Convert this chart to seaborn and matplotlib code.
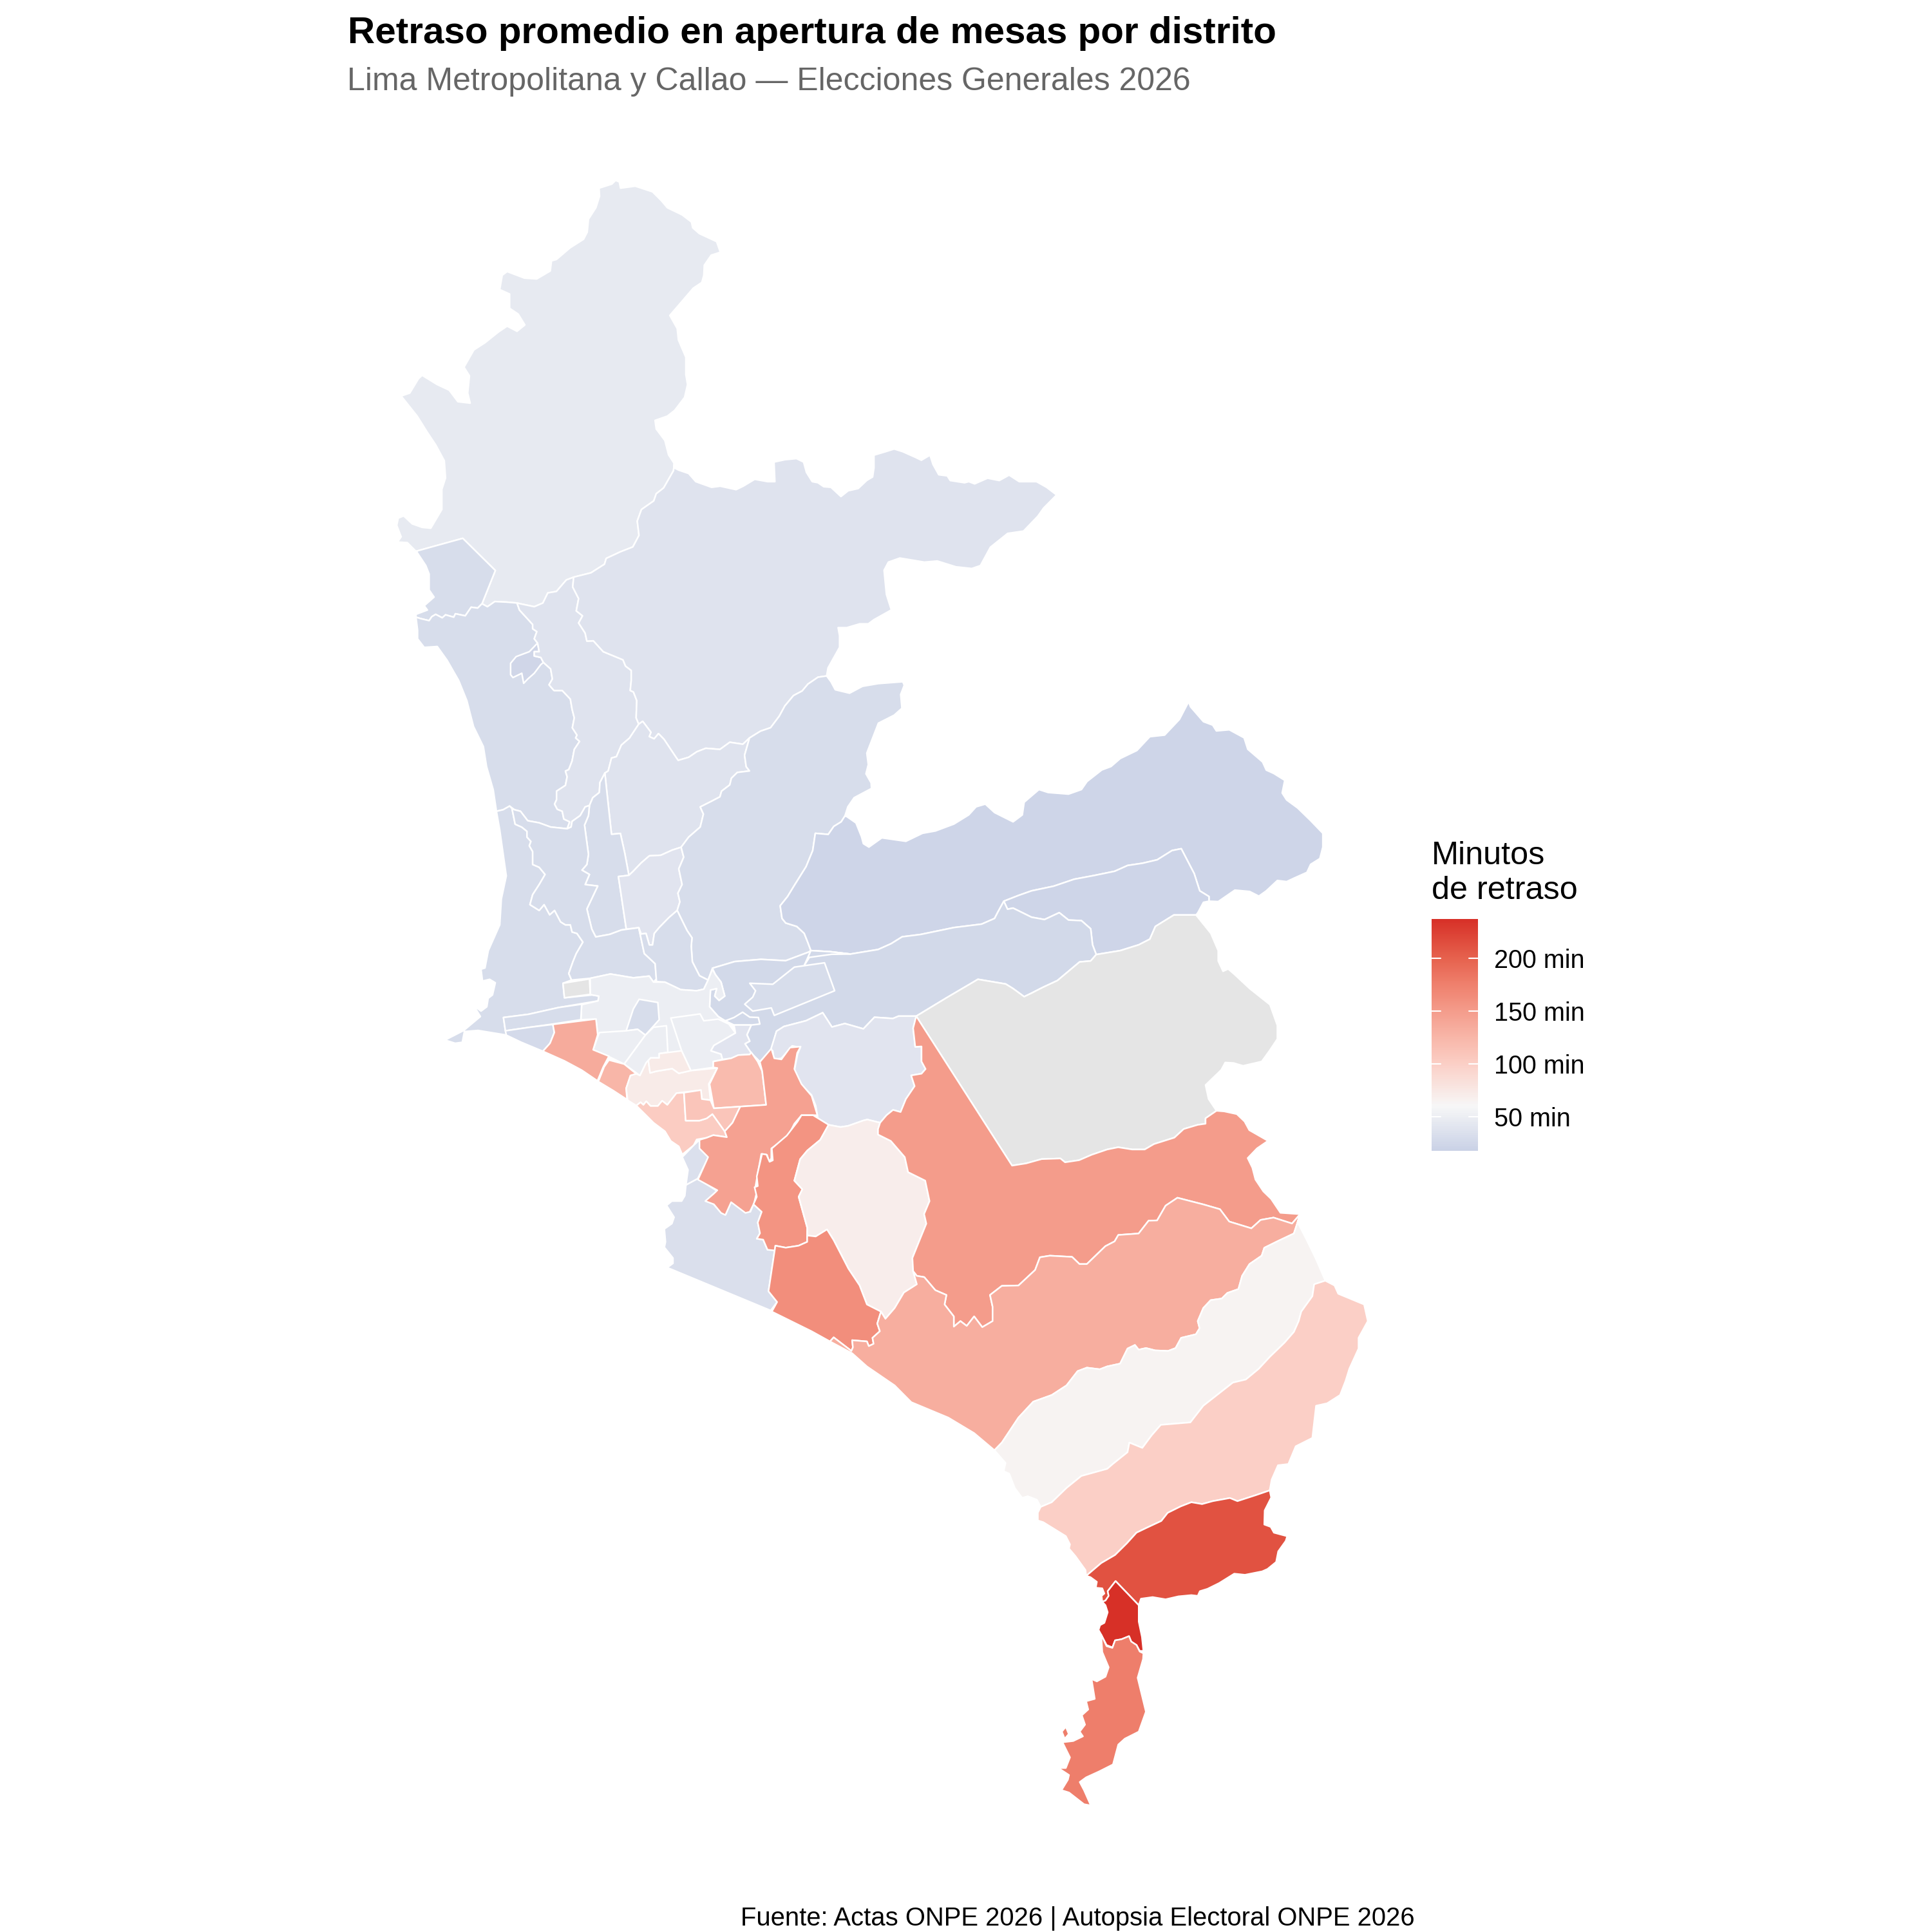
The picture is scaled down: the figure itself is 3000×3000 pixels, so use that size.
import numpy as np
import matplotlib
matplotlib.use("Agg")
import matplotlib.pyplot as plt
import seaborn as sns
from matplotlib.colors import LinearSegmentedColormap, Normalize
from matplotlib.cm import ScalarMappable

sns.set_theme(style="white")
plt.rcParams['font.family'] = ['Liberation Sans', 'DejaVu Sans']

# ---------- shared borders (map units) ----------
anc_coast = [(337.6,447.4),(330.6,440.4),(322.6,439.9),(325.6,435.7),(322,426.4),(323.2,420.5),(327.6,418.7),(334.6,425.2),(342.6,428),(349.6,428.7),(358.6,413.5),(358.6,397.2),(361.6,387.9),(360.6,373.9),(353.6,361),(346.6,350.5),(338.6,337.7),(325.6,321.4),(332.6,319),(339.6,307.4),(342.6,304.6),(354.6,312),(364.6,316.7),(371.6,326),(381.6,327.2),(379.6,319),(381,305),(376.6,298),(384.6,284),(393.6,278.2),(404.6,269.4),(411.6,264.7),(419.6,268.9),(426,263.7),(420.6,254.9),(413.6,250.2),(413.6,238.6),(405.6,235),(407.6,223.4),(411.6,220.4),(425.6,225.7),(435.6,226.4),(446.6,219.9),(447.6,211.7),(451.6,210.6),(462.6,201.2),(473.6,194.2),(476.6,188.4),(477.6,177.9),(483.6,168.6),(486.6,159.2),(486.2,152.7),(496.6,149.4),(499.6,146.4),(502.6,147.6),(503.6,152.7),(515.6,151.1),(522.6,153.4),(529.6,155.7),(536.6,162.7),(541.6,168.6),(553.6,174.4),(561.2,180.2),(562.2,184.9),(567.6,189.6),(581.6,196.1),(584.6,204.7),(577.2,207.1),(571.6,215.2),(571.2,223.4),(569.6,229.2),(562.6,233.9),(556.6,240.9),(550.6,247.9),(543.6,256),(549.6,266.6),(550.6,275.9),(556.6,289.9),(556.6,303.9),(558,312.1),(555.6,322.5),(547.6,333),(541.6,337.7),(531.6,341.2),(532.6,348.2),(539.6,357.5),(542.6,369.2),(547.2,376.2)]
b_anc_car = [(547.2,376.2),(546.6,382),(538.6,396),(532.6,400.7),(530.6,406.5),(520.6,413.5),(517.2,422.9),(518.6,434.5),(513.6,443.9),(503.6,447.8),(492,453.2),(490.6,457.9),(479.6,464.9),(465.6,468.4)]
b_anc_pp = [(465.6,468.4),(459.6,470.7),(451.6,480),(444.6,481.2),(440.6,489.4),(433.6,492.4),(424.6,490.5),(419.6,489.4)]
b_anc_ven = [(419.6,489.4),(411.6,488.7),(401.6,488.2),(395.6,492.4),(391.2,490)]
b_sr_anc = [(391.2,490),(402,463),(375.6,436.9),(337.6,447.4)]
sr_coast = [(338.1,447.7),(345.6,459),(348.3,465.9),(348.3,478.8),(352.3,484.6),(344.3,491.6),(346.9,495.1),(337.6,498.6),(337.6,500.9)]
b_ven_sr = [(391.2,490),(387.7,493.5),(382.4,492.8),(377.6,499.8),(369.6,498.1),(368.3,500.9),(361.6,499),(358.9,501.4),(353.6,498.6),(350.4,500.5),(348.3,503.7),(341.6,502.1),(337.6,500.9)]
ven_coast = [(337.6,500.9),(338.9,511.4),(338.9,518.4),(344.3,525.4),(354.9,524.7),(362.9,535.9),(372.3,552.3),(378.9,568.6),(384.3,589.6),(392.3,605.9),(394.9,622.2),(400.3,640.9),(402.9,658.4)]
b_ven_south = [(402.9,658.4),(408.3,657.2),(413.6,654.2),(417.6,657.2),(422.4,658.4),(428.3,666.1),(437.6,667.8),(446.9,671.2),(460.3,672.6)]
b_ven_pp = [(419.6,489.4),(421.6,495.1),(432.3,506.8),(432.3,510.3),(435.7,512.6),(433.6,518.4),(436.3,521.9),(437.6,528.9),(433.6,528.9),(433.6,532.4),(438.9,533.6),(441,537.6),(446.9,542.9),(448.3,551.1),(445.6,555.8),(449.6,560.4),(456.3,560.4),(462.9,567.4),(464.3,575.6),(466.1,582.6),(464.5,590.7),(468.3,596.6),(467.2,598.9),(470.4,601.7),(466.1,608.2),(464.3,617.6),(461.6,624.6),(458.9,625.8),(460.3,630.4),(458.9,637.4),(451.7,642.1),(451.7,649.1),(450.1,652.6),(452.3,656.8),(456.3,658.4),(457.6,664.7),(462.4,667),(460.3,672.6)]
mi_peru_west = [(436.3,521.9),(429.6,528.9),(418.9,532.9),(414.4,538.3),(414.4,547.6),(416.3,549.9),(423.5,546.4),(425,554.6),(428.3,551.1),(433.6,546.4),(438.9,539.4),(441,537.6)]
b_pp_car = [(465.6,468.4),(464.8,476.4),(469.6,485.8),(467.7,495.8),(472.8,499.8),(469.6,505.6),(474.9,513.8),(476.3,520.3),(481.6,520.1),(489.6,528.9),(505.6,535.5),(507.7,540.6),(512.3,544.1),(512.3,552.3),(511.5,560.4),(514.1,561.6),(516.8,568.6),(516.3,582.6),(518.4,587.7)]
b_j4_j5 = [(518.4,587.7),(510.9,599),(504.3,604.7),(500.3,614.1),(496.3,615.2),(493.6,625.7),(490.9,627.4)]
b_j5_pp = [(490.9,627.4),(486.9,635.1),(486.4,643.2),(481.1,647.4),(478.4,653.7),(474.9,654.9),(470.9,661.9),(464.3,666.6),(463.5,671.2),(460.3,672.6)]
b_car_comas = [(518.4,587.7),(521.6,585.4),(528.3,594.3),(526.9,597.8),(530.9,599.6),(534.4,595.4),(538.9,600),(548.3,614.1),(550.4,617.1),(558.9,614.6),(565.6,610.1),(572.8,607.3),(584.3,608.2),(592.3,602.4),(602.9,604),(608.3,598.9)]
b_car_sjl = [(608.3,598.9),(617.2,593.4),(625.4,590.6),(632.4,581.3),(637,572.9),(644,564.5),(651,560.8),(655.7,555.2),(663.9,549.6),(670.9,548.6)]
car_north = [(547.2,379.7),(550.7,381.5),(558.9,384.3),(564.7,390.9),(577.5,395.5),(584.5,394.6),(597.4,397.4),(603.2,394.6),(612.5,389),(623,390.9),(628.9,390.9),(628.2,375),(637,373.1),(646.4,372.2),(652.2,375),(654.5,383.4),(659.2,390.9),(663.9,391.8),(668.5,395),(674.4,395.5),(682.5,403),(688.4,398.3),(696.5,396.5),(703.5,389.9),(708.2,387.1),(709.3,379.7),(709.3,369.4),(718.7,366.6),(725.7,364.4),(732.7,366.6),(743.2,371.3),(747.8,373.5),(754.8,369.4),(757.2,376.9),(761.9,385.3),(768.8,386.2),(771.2,390),(782.8,391.8),(786.3,390.9),(791,392.7),(801.5,388.1),(811,390),(819,385.6),(827.2,390.9),(841.2,390.9),(849.4,395.5),(857.5,401.7),(847,412.3),(842.3,418.9),(830.7,431),(817.8,432.9),(803.8,444.1),(795.7,459),(788.7,461.4),(775.8,460),(760.7,455.3),(750.2,456.2),(730.3,452.9),(721,456.2),(717.5,462.8),(719.4,482.4),(723.4,495),(709.3,502.9),(704.7,506.3),(697.7,506.3),(687.2,509.4),(680.2,509.4),(681.4,516),(681.4,525.3),(672,542.1),(670.9,548.6)]
b_comas_sjl = [(608.3,598.9),(604.3,612.9),(605.6,622.2),(608.3,625.7),(598.4,626.9),(593.6,631.6),(592.3,637),(585.6,642.1),(584.3,646.7),(577.6,650.2),(568.3,654.9),(570.9,660.7),(568.3,671.2),(558.9,679.4),(552.8,687.6)]
b_comas_low = [(552.8,687.6),(545.6,689.9),(536.3,694.1),(527,694.6),(520.3,700.4),(513.6,707.4),(510.4,710.4)]
b_strip_e = [(510.4,710.4),(507,692.2),(503.5,676.4),(496.3,677.1),(493.6,652.6),(490.9,627.4)]
b_smp_w = [(478.4,653.7),(477.6,661.9),(474.4,669.6),(477.6,693.4),(476.3,701.6),(472.3,706.2),(478.4,709.7),(474.9,717.9),(485.1,719.1),(476.3,737.7),(480.3,754.1),(483.5,760.4),(494.9,758.3),(504.3,754.8)]
b_low_sjl = [(552.8,687.6),(554.9,695.7),(550.9,705.1),(553.6,717.9),(550.2,724.9),(551.8,731.9),(549.6,738.9)]
b_rim_top = [(549.6,738.9),(542.9,744.7),(534.9,752.9),(531,757.6),(529.6,766.9),(527,766.9),(524.3,757.6),(520.3,758),(518.4,752.9)]
b_sjl_rim = [(549.6,738.9),(553.6,747.1),(557.6,755.2),(561.6,761.1),(561,768),(561.9,780.5),(567.7,791.9),(574.7,795.4),(578.2,785.8)]
sjl_outer = [(670.9,548.6),(674.4,553.3),(677.9,559.8),(689.5,562.6),(700,557),(712.9,554.8),(732.7,553.3),(733.9,556.1),(731,563.6),(732,574.8),(725.7,580.4),(712.9,586.9),(709.3,596.2),(703.5,611.2),(704.7,620.5),(702.8,628),(707,635.4),(707.3,639.9),(693.2,647.4),(688.1,654.8),(685.7,662.3)]
b_sjl_lur = [(685.7,662.3),(682.7,667),(676.7,670.7),(672.2,677.2),(661.7,676.3),(659.6,690.3),(654.2,703.4),(643.7,720.2),(639.2,727.6),(633.2,735.1),(634.7,745.4),(637.7,749.1),(646.7,751.9),(652.7,757.5),(655.7,765),(658.1,771.5)]
b_sjl_south = [(578.2,785.8),(596.3,780.4),(617.6,778.6),(637.6,779.7),(656.3,772.7),(658.1,771.5)]
lur_outer = [(685.7,662.3),(687.2,662.7),(694.7,667.9),(699.2,679.1),(700.7,684.7),(705.2,687.5),(715.7,680),(735.2,682.8),(748.7,676.3),(759.2,674.4),(774.2,668.8),(786.2,661.4),(792.2,654.8),(799.7,652.6),(807.2,659.5),(822.2,667),(829.7,661.4),(831.2,651.1),(843.2,640.8),(850.7,643.2),(867.2,644.5),(877.7,640.8),(882.2,634.3),(894.2,624.9),(901.7,622.1),(909.2,615.6),(922.7,609.1),(933.2,597.9),(945.2,596.6),(957.2,583.9),(964.7,569.5),(966.2,573.6),(976.7,585.7),(984.2,588.5),(987.2,593.2),(997.7,592.3),(1009.7,598.8),(1012.7,608.1),(1024.7,618.4),(1027.7,625),(1033.7,627.7),(1042.7,633.3),(1040.6,643.6),(1044.2,649.2),(1053.2,655.8),(1063.7,666),(1073.6,676.3),(1073.6,687.5),(1071.2,696.8),(1063.7,701.5),(1060.7,708),(1050.2,712.7),(1044.2,715.5),(1036.7,714.6),(1027.7,723),(1021.7,727.3),(1014.2,723.5),(1002.2,722.4),(988.7,731.7),(981.2,731.4)]
b_lur_cha = [(981.2,731.4),(981.2,727.6),(973.7,723),(969.2,709),(958.7,688.8),(951.2,690.3),(939.2,697.8),(927.2,700.6),(915.2,702.4),(904.7,707.1),(888.2,710.5),(871.7,713.6),(855.2,719.2),(837.2,723),(826.7,726.7),(814.7,731.4)]
b_lur_ate = [(814.7,731.4),(809.6,740.7),(807.2,745.4),(796.7,750),(774.2,752.8),(747.2,758.4),(732.2,760.3),(723.2,765.9),(712.7,770.6),(690.2,774.3),(673.7,772.4),(658.1,771.5)]
b_cha_gray = [(981.2,731.4),(976.7,732.3),(972.2,740.7),(970.7,742.6),(952.7,742.6),(937.7,751.9),(933.2,762.2),(924.2,766.8),(909.2,771.5),(889.7,774.7)]
b_cha_ate = [(889.7,774.7),(886.7,766.8),(885.2,753.8),(877.7,747.2),(867.2,746.7),(859.7,740.7),(847.7,746.3),(837.2,744.4),(822.2,737),(817.7,737.9),(814.7,731.4)]
b_ate_gray = [(889.7,774.7),(885.2,779.9),(876.2,780.7),(858.2,795.8),(846.2,801.4),(837.2,806),(831.2,808.9),(822.2,802.3),(816.2,798.6),(793.7,794.8),(768.2,809.8),(743.6,824.7)]
b_ate_mol = [(743.6,824.7),(729.2,824.7),(724.7,826.6),(709.7,825.6),(700.7,835),(685.7,830.7),(675.2,833.5),(667.7,821.9),(654.2,828.4),(636.2,833.1),(630.2,836.9)]
ate_west = [(630.2,836.9),(626,852),(616.7,861.6),(609.7,854.6),(604.6,847.1),(608.5,845),(606.2,839.8),(609.7,831.9),(595.7,831.9),(595.7,827),(588.7,828.5),(582.9,825),(575.9,817.1),(576.6,803.5),(581.7,802.3),(580.1,808.4),(583.6,811.9),(588.2,808.4),(585.2,797.1),(580.6,791),(578.2,785.8)]
gray_outer = [(970.7,742.6),(982.7,757.5),(988.7,771.5),(988.7,779.9),(992.6,788.3),(996.8,786.4),(1002.2,791.1),(1014.2,802.3),(1030.7,815.4),(1036.7,832.2),(1036.7,843.2),(1030.3,852.8),(1024,861.5),(1008.8,865),(1001.2,862.7),(994.4,862.3),(991.1,868.4),(978.4,880.6),(980.9,892),(987.3,901.5)]
b_gray_s3 = [(987.3,901.5),(978.4,907.6),(978.4,912),(972.1,912.9),(960.7,916.3),(953.1,923.3),(936.6,928.5),(929,932.9),(918.9,932.9),(907.5,931.1),(898.6,932.9),(886,937.2),(875.8,941.6),(864.4,943.3),(860.6,940.2),(845.4,940.7),(832.8,944.2),(821.4,946),(743.6,824.7)]
s3_outer = [(987.3,901.5),(993.6,902),(1003.8,904.2),(1010.1,910.2),(1013.9,917.2),(1029.1,925.9),(1020.2,932),(1012.6,939.9),(1016.4,947.7),(1018.9,957.3),(1025.3,966.9),(1031.6,973),(1039.2,984.3),(1055.2,985.4)]
b_s3_s4 = [(1055.2,985.4),(1048.6,993),(1033.6,988.2),(1023.1,990.1),(1015.6,996.9),(997.6,991.4),(990.1,981.4),(976.6,977.5),(955.6,972.1),(946,978.5),(939.1,990.5),(932.2,990.7),(924.1,1001.1),(907.6,1002.3),(904.6,1007.5),(897.1,1011.4),(882.1,1025.9),(876.1,1025.9),(870.1,1020.1),(852.1,1019.1),(844,1020.4),(840.1,1030.7),(826.6,1043.3),(813.1,1043.6),(803.5,1051),(805.6,1060.6),(805.6,1072.2),(797.2,1077.1),(790.6,1068.4),(784.6,1076.1),(779.5,1072.2),(774.1,1076.7),(774.1,1068.4),(766.6,1058.7),(768.1,1051),(759.1,1047.1),(750.1,1036.5),(744.1,1035.5),(741.1,1031.7)]
b_p9_s3 = [(741.1,1031.7),(740.5,1021),(746.5,1006.1),(751.8,993.1),(750,985.3),(754.4,974.8),(750.9,958.2),(737,951.3),(734.3,939.1),(723,926),(712.6,920.8),(712.6,916.4),(714.3,911.2)]
b_mol_s3 = [(714.3,911.2),(719.5,905.1),(724.8,900.8),(730.9,902.5),(735.2,892),(742.3,881.5),(739.5,872.8),(747.9,871.4),(751.2,867.6),(747.9,861.5),(747.9,849.3),(742.8,849.6),(741.1,834.5),(743.6,824.7)]
b_mol_p9 = [(714.3,911.2),(703.9,908.6),(700.4,909.5),(688.2,913.8),(682.1,914.7),(672.5,912.9)]
b_mol_s1 = [(672.5,912.9),(663.8,907.7),(662,897.3),(658.6,888.6),(649.9,879.9),(644.6,869.4),(647.3,855.5),(649.5,850.2),(642.9,848.8),(634.2,858.9),(628.1,859.8),(627.2,852.9),(625.5,852),(630.2,836.9)]
b_p9_s2 = [(672.5,912.9),(665.7,925.1),(655.2,933.8),(649.4,940.8),(644.7,958.2),(651.2,965.2),(648.2,971.3),(655.2,996.6),(655.1,1002.7)]
b_p9_s5 = [(655.1,1002.7),(662,1003.5),(671.2,997.8),(676.6,1006.5),(688.6,1029.7),(697.6,1043.2),(703.6,1058.7),(715,1064.5)]
b_p9_s4 = [(715,1064.5),(718.6,1070.3),(726.1,1061.6),(733.6,1049),(744.1,1042.3),(741.1,1031.7)]
b_s5_s4 = [(715,1064.5),(712,1074.2),(714.1,1080.4),(708.1,1085.8),(709,1090.6),(705.1,1092.5),(703.6,1088.7),(691.6,1087.7),(692.2,1093.5),(691,1096.4),(676.6,1085.4),(673.6,1088.7)]
s4_coast = [(673.6,1088.7),(691.6,1098.3),(703.6,1109),(726.1,1124.4),(739.6,1138),(769.6,1150.5),(790.6,1163.1),(807.1,1177)]
b_s4_p10 = [(807.1,1177),(813.1,1170.8),(826.6,1150.5),(838.6,1137.6),(853.6,1132.2),(865.6,1124.4),(874.6,1112.8),(882.1,1110),(892.6,1111.3),(898.6,1109),(909.1,1106.7),(915.1,1094.5),(921.1,1091.6),(924.1,1095.4),(930.1,1094.1),(937.6,1096),(948.1,1096.4),(954.1,1094.1),(958.6,1085.8),(970.6,1082.9),(973.6,1078),(972.1,1072.2),(976.6,1061.6),(982.6,1055.2),(991.6,1053.9),(996.1,1049.4),(1005.1,1046.2),(1008.1,1035.5),(1014.1,1025.9),(1024,1019.1),(1026.1,1012.7),(1036.6,1007.5),(1050.1,1001.1),(1053.1,992),(1055.2,985.4)]
p10_east = [(1053.1,992),(1060.6,1006.5),(1068.1,1022),(1075.6,1039.4)]
b_p10_p11 = [(1075.6,1039.4),(1066.6,1042.3),(1065.1,1052),(1056.1,1064.5),(1054,1072.2),(1050.1,1081),(1042.6,1089.6),(1030.6,1101.2),(1021.6,1110.9),(1011.1,1119.6),(1000.6,1122.1),(976.6,1140.9),(966.1,1154.4),(942.1,1156.4),(934.6,1165),(927.1,1175.1),(916.6,1170.8),(915.1,1178.6),(903.1,1188.2),(898.6,1192.1),(877.6,1197.9),(865.6,1207.6),(853.6,1219.2),(844.6,1223)]
p10_coast = [(844.6,1223),(841.6,1217.2),(834.1,1214.3),(829.6,1215.7),(823.6,1207.6),(819.1,1196),(814.6,1194),(816.1,1187.3),(807.1,1177)]
p11_east = [(1075.6,1039.4),(1083.1,1043.3),(1086.1,1050),(1107.1,1058.7),(1110.1,1072.2),(1102.6,1085.8),(1102.6,1094.5),(1095.1,1110.9),(1092.1,1120.6),(1087.6,1132.2),(1077.1,1138.9),(1068.1,1140.9),(1065.1,1167),(1051.6,1173.8),(1045.6,1188.2),(1037.2,1189.2),(1032.1,1200.8),(1030.5,1209.6)]
b_p11_p12 = [(1030.5,1209.6),(1019.1,1213.5),(1004.3,1218.3),(998.2,1215.8),(984.3,1218.3),(975.6,1220.7),(966.9,1219.2),(958.2,1222.6),(947.7,1227.8),(942.5,1234.4),(930.3,1240.1),(922.4,1243.9),(914.6,1252.5),(905,1262),(893.7,1268.6),(881.5,1279)]
p11_coast = [(881.5,1279),(881,1274.3),(872.8,1262.9),(867.6,1256.8),(868.4,1253.4),(865,1246.7),(846.7,1235.4),(842.3,1234),(842.3,1227.7),(844.6,1223)]
p12_outer = [(1030.5,1209.6),(1031.7,1215.4),(1026.4,1225.9),(1026.1,1237.3),(1031.3,1239.2),(1033.9,1243.9),(1044.7,1246.8),(1043.5,1250.6),(1037.4,1259.1),(1035.7,1267.7),(1028.7,1273.4),(1024.4,1275.3),(1010.4,1278.1),(1001.7,1277.2),(989.5,1284.8),(980,1289.5),(973.8,1291.4),(972.1,1295.2),(966.9,1294.6),(956.4,1295.6),(946,1298),(935.5,1296.2),(926,1297.5),(924.2,1302.8)]
b_p12_p13 = [(924.2,1302.8),(905.4,1283.2),(899,1291.4),(899.8,1295.2),(897.2,1299),(894.6,1300)]
p12_west = [(894.6,1300),(894,1295.2),(896.3,1293.3),(894.6,1289.1),(889.3,1288.6),(890.2,1283.8),(885,1280),(881.5,1279)]

# ---------- district outlines ----------
ancon = anc_coast + b_anc_car + b_anc_pp + b_anc_ven + b_sr_anc
santa_rosa = b_sr_anc + sr_coast + b_ven_sr[::-1]
ventanilla = b_anc_ven[::-1] + b_ven_pp + b_ven_south[::-1] + ven_coast[::-1] + b_ven_sr[::-1]
mi_peru = mi_peru_west + [(438.9,533.6),(433.6,532.4),(433.6,528.9),(437.6,528.9)]
puente_piedra = b_anc_pp[::-1] + b_pp_car + b_j4_j5 + b_j5_pp + b_ven_pp[::-1]
carabayllo = b_anc_car[:-1] + b_pp_car + b_car_comas + b_car_sjl + car_north[::-1]
comas = b_car_comas + b_comas_sjl + b_comas_low + b_strip_e + b_j4_j5[::-1]
independencia = b_j5_pp[:4] + b_smp_w + [(508.3,754.1),(501.9,711.4)] + b_strip_e
comas_low = b_comas_low + [(501.9,711.4),(508.3,754.1),(518.4,752.9)] + b_rim_top[::-1] + b_low_sjl[::-1]
sjl = b_car_sjl + sjl_outer + b_sjl_lur + b_sjl_south[::-1] + b_sjl_rim[::-1] + b_low_sjl[::-1] + b_comas_sjl[::-1]
lurigancho = lur_outer + b_lur_cha + b_lur_ate + b_sjl_lur[::-1]
chaclacayo = b_lur_cha[::-1] + b_cha_gray + b_cha_ate
ate = b_lur_ate[::-1] + b_cha_ate[::-1] + b_ate_gray + b_ate_mol + ate_west + b_sjl_south
santa_anita = [(669.2,781.4),(677.4,804.1),(628.4,824.1),(626,818),(610.9,820.6),(604.4,815),(610.9,809.3),(613.2,804.1),(608.5,798),(627.2,798.8),(644.7,784.9)]
ate_strip = [(652.9,783.2),(656.9,777),(675,774.5),(690.2,774.3),(673.7,772.4),(658.1,771.5)]
ate_lobe = [(588.7,828.5),(595.7,825.8),(602.7,821.5),(608.5,825.5),(615.5,825.8),(616.7,831.1),(609.7,831.9),(595.7,831.9)]
gray_na = b_cha_gray[3:] + b_ate_gray[1:] + b_gray_s3[::-1][1:] + gray_outer[::-1]
callao = [(402.9,658.4),(405.6,673.6),(410.9,710.9),(406.9,729.6),(405.6,750.6),(396.3,771.6),(393.6,785.6),(390.4,786.6),(391.6,796.2),(397.4,794.8),(402,797.6),(399.7,807.5),(396.2,810.2),(395.1,817.1),(390.4,820.6),(384.6,816.3),(389.9,825),(376.4,836.3),(361.2,844.1),(369.4,846.7),(375.2,845.9),(376.9,837.2),(388,836.3),(411.4,840.1),(410.2,836.6),(408.6,825.8),(428.9,823.2),(453.4,817.7),(485.4,812.3),(486,808.4),(480.7,807.5),(458.1,809.8),(456.9,798),(463.9,795.4),(461.6,790.1),(465,780.5),(467.7,773.9),(473.1,764.6),(468.3,757.6),(464.3,756.4),(462.9,750.6),(458.9,750.6),(455,748.2),(450.1,738.9),(446.1,742.4),(441.6,734.2),(437.6,738.9),(430.1,734.2),(432.3,726.1),(437.6,717.9),(442.4,709.7),(437.6,703.9),(432.3,701.6),(432.3,691.1),(429.6,686.4),(430.9,682.9),(427.7,679.4),(427.7,674.7),(423.5,671.3),(418.1,668.9),(415.5,656.1),(413.6,654.2),(408.3,657.2)]
los_olivos = b_ven_south[3:] + b_j5_pp[::-1][:6] + b_smp_w + [(518.4,752.9),(522.9,773.9),(531.7,782.1),(532.8,794.4),(530.4,797.1),(526.9,792.2),(514,793.6),(495.4,790.5),(479,794),(463.9,795.4),(461.6,790.1),(465,780.5),(467.7,773.9),(473.1,764.6),(468.3,757.6),(464.3,756.4),(462.9,750.6),(458.9,750.6),(455,748.2),(450.1,738.9),(446.1,742.4),(441.6,734.2),(437.6,738.9),(430.1,734.2),(432.3,726.1),(437.6,717.9),(442.4,709.7),(437.6,703.9),(432.3,701.6),(432.3,691.1),(429.6,686.4),(430.9,682.9),(427.7,679.4),(427.7,674.7),(423.5,671.3),(418.1,668.9),(415.5,656.1)]
rimac = b_rim_top + [(522.9,773.9),(531.7,782.1),(532.8,796.6),(539.7,797.1),(552.5,803.2),(565.4,804.1),(571.2,802.8),(574.7,795.4),(567.7,791.9),(561.9,780.5),(561,768),(561.6,761.1),(557.6,755.2),(553.6,747.1)]
gray_small = [(456.9,798),(478.4,794.5),(479.1,807),(458.1,809.8)]
lima = [(479,794),(495.4,790.5),(514,793.6),(526.9,792.2),(530.4,797.1),(539.7,797.1),(552.5,803.2),(565.4,804.1),(571.2,802.8),(574.7,795.4),(578.2,786.6),(580.6,791),(585.2,797.1),(588.2,808.4),(583.6,811.9),(580.1,808.4),(581.7,802.3),(576.6,803.5),(575.9,817.1),(582.9,825),(591.5,831.1),(596.9,838.4),(579.4,848.5),(577,852.8),(585.2,855.5),(586.4,859.8),(578.9,861.5),(578.9,866.3),(560.7,868.9),(519.4,872.9),(506.6,863.6),(493.5,857.2),(481.4,852),(485.1,839.8),(483.7,827),(471.4,827.6),(472.1,815.4),(485.4,812.3),(486,808.4),(480.7,807.5),(479.1,807)]
brena = [(518.7,811),(533.9,813.6),(535,827.6),(523.8,840.1),(517.5,835.4),(508.2,836.6),(514,818.9)]
pueblo_libre = [(486.5,838),(508.2,836.6),(517.5,835.4),(523.8,840.1),(506.6,863.6),(493.5,857.2),(481.4,852),(485.1,841.5)]
lince = [(523.8,840.1),(530.4,833.7),(540.9,832.5),(542,854),(535,855.1),(535,858.6),(528,858.6),(524.5,862.4),(519.4,872.9),(506.6,863.6)]
la_victoria = [(544.4,826.2),(568.2,822.9),(571.2,828.5),(582.9,827.1),(591.5,831.1),(596.9,838.4),(579.4,848.5),(577,852.8),(585.2,855.5),(586.4,859.8),(578.9,861.5),(578.9,866.3),(560.7,868.9),(553.2,852.8)]
bellavista = [(408.6,825.8),(428.9,823.2),(453.4,817.7),(472.1,815),(471.4,827.6),(448.7,831.1),(430.1,833.7),(410.2,836.6)]
la_punta = [(410.2,836.6),(430.1,833.7),(448.7,831.4),(449.9,838),(446.4,846.7),(440.6,853.2),(423.1,845.9),(410.9,840.1)]
magdalena = [(448.7,831.4),(483.7,827),(485.1,839.8),(481.4,852),(494.2,857.2),(489.6,865.9),(484.9,877.2),(472.1,868.5),(458.1,861),(440.6,853.2),(446.4,846.7),(449.9,838)]
san_isidro = [(494.2,860.3),(506.6,863.6),(516.4,871.5),(511.7,872.9),(508.2,883.3),(508.9,892.4),(497.7,885.1),(485.6,877.8),(490.3,865.9)]
miraflores = [(524.5,862.4),(519.4,872.9),(516.4,871.5),(511.7,872.9),(508.2,883.3),(509.4,892.9),(516.4,897.3),(519.9,894.6),(522.2,896.7),(524.5,893.8),(528,897.6),(533.9,897.6),(537.4,893.4),(541.6,896.7),(549,887.2),(568.9,884.7),(569.6,892),(576.6,892.9),(575.2,879.8),(582.2,866.8),(560.7,868.9),(550.9,871.1),(545.6,867.3),(532.7,869.4),(527.6,870.8),(526.2,860.7)]
surquillo = [(526.2,860.7),(528,858.6),(535,858.6),(535,855.1),(553.2,852.8),(560.7,868.9),(550.9,871.1),(545.6,867.3),(532.7,869.4),(527.6,870.8)]
san_borja = [(596.9,838.4),(595.7,831.9),(609.7,831.9),(606.2,839.8),(608.5,845),(604.6,847.1),(609.7,854.6),(608.5,855.8),(599.2,856.3),(593.4,858.9),(586.4,859.8),(585.2,855.5),(577,852.8),(579.4,848.5)]
santiago = [(578.9,861.5),(593.4,858.9),(599.2,856.3),(608.5,855.8),(609.7,854),(614.9,861.5),(618.6,869.4),(621.8,896.7),(579.4,899.5),(575.9,879.8),(582.2,866.8),(578.9,866.3)]
chorrillos = [(516.4,897.3),(523.4,904.2),(530.4,911.2),(539.7,918.2),(544.4,926),(550.9,930.4),(553.7,937),(563,929.5),(565.4,924.8),(573.5,923.4),(578.9,921.3),(589.9,922.9),(588.2,918.2),(578.2,904.2),(573.5,907.7),(567.7,909.5),(556.5,909.5),(555.1,886.8),(549,887.2),(541.6,896.7),(537.4,893.4),(533.9,897.6),(528,897.6),(524.5,893.8),(522.2,896.7),(519.9,894.6)]
barranco = [(555.1,886.8),(568.9,884.7),(569.6,892),(576.6,892.9),(579.4,899.5),(600.8,898.1),(594.5,911.2),(588.2,918.2),(578.2,904.2),(573.5,907.7),(567.7,909.5),(556.5,909.5)]
la_molina = [(630.2,836.9)] + b_ate_mol[::-1][1:] + b_mol_s3[::-1] + b_mol_p9 + b_mol_s1
surco_s1 = [(616.7,861.9),(626,851),(628.4,858.9),(634.2,859.8),(641.2,850.2),(649.8,849.4),(647,854.6),(644.7,867.6),(650.5,879.8),(658.7,889.4),(663.4,905.1),(650.5,905.1),(644.7,912),(638.9,923.4),(633,926.9),(626,932.1),(626,939.9),(624.4,943.4),(622.5,937.3),(617.9,936.5),(615.5,949.5),(613.2,962.6),(613.9,968.7),(612,976.5),(608.5,983.5),(605,984.4),(593.4,975.7),(588.7,986.1),(585.2,984.4),(579.4,977.4),(572.4,974.8),(579.4,968.7),(582.2,966),(566.5,957.4),(574.7,939.1),(567.7,932.1),(567.7,925.1),(573.5,923.4),(578.9,921.3),(589.9,922.9),(588.2,918.2),(594.5,911.2),(600.8,898.1),(621.8,896.7),(618.6,869.4)]
vmt_s2 = [(650.5,905.1),(659.9,905.1),(672.5,912.9)] + b_p9_s2[1:] + [(655.1,1007.9),(648.1,1011),(637.7,1012.6),(629.3,1011),(629,1014.9),(622.9,1014.3),(619.4,1006.1),(614.2,1005.3),(616.8,1000.9),(615,992.2),(618.2,983.5),(611.5,977.4),(614.2,971.3),(612.4,963.5),(615,962.6),(614.2,954.8),(618.5,936.5),(622,937),(624.6,942.9),(627.2,941.7),(626.4,932.1),(632.4,926.9),(638.5,921.7),(647.3,910.3)]
pale_p9 = b_mol_p9[::-1] + b_p9_s3[::-1] + b_p9_s4[::-1] + b_p9_s5[::-1] + b_p9_s2[::-1]
pachacamac_s3 = b_gray_s3[::-1][:-1] + s3_outer + b_s3_s4 + b_p9_s3 + b_mol_s3
lurin_s5 = [(629.3,1011),(637.7,1012.6),(648.1,1011),(655.1,1007.9)] + b_p9_s5 + b_s5_s4 + [(658.6,1080.4),(626.4,1064.5),(630.7,1056.7),(623.7,1048)]
lurin_s4 = b_s3_s4 + b_p9_s4[::-1] + b_s5_s4 + s4_coast + b_s4_p10
punta_p10 = b_s4_p10 + p10_east + b_p10_p11 + p10_coast
chilca_p11 = b_p10_p11[::-1] + p11_east + b_p11_p12 + p11_coast
asia_p12 = b_p11_p12[::-1] + p12_outer + b_p12_p13 + p12_west
p13 = [(905.4,1283.2),(924.2,1302.8),(924.2,1316.1),(926.8,1328.5),(928,1339.9),(925,1339.9),(922.4,1335.1),(918.1,1332.3),(916.3,1327.9),(910.2,1330.4),(905,1331.3),(902.8,1337),(898.1,1335.1),(893.7,1326.6),(891.6,1322.8),(892.8,1319),(896.3,1317.1),(899,1308.5),(897.2,1302.8),(894.6,1300),(897.2,1299),(899.8,1295.2),(899,1291.4)]
p14 = [(928,1341.8),(927.7,1346.5),(923.3,1361.7),(930,1389.2),(924.2,1405.4),(912.9,1411.1),(907.6,1415.9),(903.3,1432),(892,1437.7),(881.5,1442.5),(876.3,1446.3),(879.8,1452.9),(885.3,1465.3),(879.8,1464.3),(867.6,1454.8),(861.5,1452.9),(866.7,1444.4),(867.6,1440.6),(858.9,1434.9),(865,1434.9),(868.4,1426.3),(862.3,1414),(871,1413),(878.9,1409.2),(876.3,1405.4),(880.6,1399.7),(878,1392.1),(883.2,1387.4),(881.5,1380.7),(888.5,1378.8),(885.9,1362.7),(890.2,1364.6),(897.2,1360.8),(899.8,1353.2),(894.6,1340.8),(893.7,1326.6),(898.1,1336),(902.8,1337.4),(905,1331.3),(910.2,1330.4),(916.3,1327.9),(918.1,1332.3),(922.4,1335.1),(925,1340.4)]
p14_island = [(861.8,1405.4),(865,1401.5),(867.4,1407.3),(864.1,1411.2)]
vmt_blue = [(556.7,961.7),(555.8,970.4),(553.2,974.8),(545.3,974.8),(541,978.3),(547.1,987.9),(545.3,993.1),(539.2,997.4),(540.1,1007.9),(539.2,1012.3),(546.2,1021),(546.2,1025.3),(541.5,1028.8),(546.2,1030.7),(625.5,1063.6),(630.7,1056.7),(623.7,1048),(629.3,1011),(622.9,1014.3),(619.4,1006.1),(614.2,1005.3),(616.8,1000.9),(615,992.2),(618.2,983.5),(611.5,977.4),(609,983.5),(604.6,983.5),(593.3,975.1),(588.9,985.8),(585.4,984.4),(578.4,976.5),(572.9,974.8),(581.9,966.6),(566.3,956.5)]
small_blue = [(553.7,939.1),(563,929.5),(567.7,925.1),(568.3,932.1),(575,939.1),(566.3,956.5),(556.7,961.7),(558.4,949.5)]

# ---------- delay values (minutes); None = no data ----------
names = ["Ancón","Santa Rosa","Ventanilla","Mi Perú","Puente Piedra","Carabayllo","Comas","Independencia","Comas sur","San Juan de Lurigancho","Lurigancho","Chaclacayo","Ate","Santa Anita","Ate franja","Ate lóbulo","Sin dato este","Callao","Los Olivos","Rímac","Sin dato centro","Lima","Breña","Pueblo Libre","Lince","La Victoria","Bellavista","La Punta","Magdalena","San Isidro","Miraflores","Surquillo","San Borja","Santiago","Chorrillos","Barranco","VMT","Costa azul","La Molina","Surco","VES","Pale","Pachacámac","Lurín","Lurín sur","Punta Hermosa","Chilca","Asia","Pucusana","Santa María","Santa María isla"]
shapes = [ancon,santa_rosa,ventanilla,mi_peru,puente_piedra,carabayllo,comas,independencia,comas_low,sjl,lurigancho,chaclacayo,ate,santa_anita,ate_strip,ate_lobe,gray_na,callao,los_olivos,rimac,gray_small,lima,brena,pueblo_libre,lince,la_victoria,bellavista,la_punta,magdalena,san_isidro,miraflores,surquillo,san_borja,santiago,chorrillos,barranco,vmt_blue,small_blue,la_molina,surco_s1,vmt_s2,pale_p9,pachacamac_s3,lurin_s5,lurin_s4,punta_p10,chilca_p11,asia_p12,p13,p14,p14_island]
delays = [46,31,31,24,38.5,38.5,38,31,40,31,23,23,27,31,27,27,None,31,31,31,None,50,31,50,50,50,31,29,136,125,72,72,40,120,103,110,34,35,40,145,157,70,150,162,133,65,100,212,237,177,177]

legend_ticks = [50,100,150,200]
legend_labels = ["50 min","100 min","150 min","200 min"]
title_text = "Retraso promedio en apertura de mesas por distrito"
subtitle_text = "Lima Metropolitana y Callao — Elecciones Generales 2026"
caption_text = "Fuente: Actas ONPE 2026 | Autopsia Electoral ONPE 2026"

vmin, vmax = 18, 237
stops = [(18,"#c9d1e6"),(60,"#f7f7f7"),(80,"#f9e3de"),(100,"#fbcfc6"),(125,"#f8b6a8"),(150,"#f49c8b"),(175,"#ef806d"),(200,"#e6624e"),(237,"#d73027")]
cmap = LinearSegmentedColormap.from_list("retraso", [((v-vmin)/(vmax-vmin), c) for v, c in stops])
norm = Normalize(vmin, vmax)

fig = plt.figure(figsize=(10, 10), dpi=300, facecolor="white")
ax = fig.add_axes([0, 0, 1, 1])
for shape, value in zip(shapes, delays):
    xs, ys = zip(*shape)
    face = "#e5e5e5" if value is None else cmap(norm(value))
    ax.fill(xs, ys, facecolor=face, edgecolor="white", linewidth=0.6, joinstyle="round")
ax.set_xlim(0, 1568)
ax.set_ylim(1568, 0)
ax.set_axis_off()
sns.despine(ax=ax, left=True, bottom=True)

fig.text(540/3000, 1-67/3000, title_text, fontsize=14.0, fontweight="bold", color="black", va="baseline", ha="left")
fig.text(539/3000, 1-140/3000, subtitle_text, fontsize=12.0, color="#666666", va="baseline", ha="left")
fig.text(2197/3000, 1-2990/3000, caption_text, fontsize=9.6, color="black", va="baseline", ha="right")
fig.text(2223/3000, 1-1342/3000, "Minutos", fontsize=12.1, va="baseline", ha="left", color="black")
fig.text(2223/3000, 1-1396/3000, "de retraso", fontsize=12.1, va="baseline", ha="left", color="black")

cax = fig.add_axes([2223/3000, 1-1787/3000, 72/3000, 360/3000])
cb = fig.colorbar(ScalarMappable(norm=norm, cmap=cmap), cax=cax)
cb.outline.set_visible(False)
cb.dividers.set_visible(False)
cb.set_ticks(legend_ticks)
cb.set_ticklabels(legend_labels)
cb.ax.tick_params(length=0, labelsize=9.5, pad=6, labelcolor="black")
for t in legend_ticks:
    cax.plot([0, 0.2], [t, t], color="white", lw=0.5, transform=cax.get_yaxis_transform())
    cax.plot([0.8, 1], [t, t], color="white", lw=0.5, transform=cax.get_yaxis_transform())

fig.savefig("out.png", dpi=300, facecolor="white")
